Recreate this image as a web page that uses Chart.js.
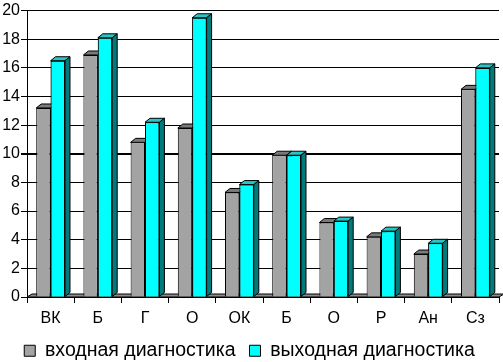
<!DOCTYPE html>
<html>
<head>
<meta charset="utf-8">
<script src="https://cdn.jsdelivr.net/npm/chart.js"></script>
<style>
  html, body { margin: 0; padding: 0; background: #fff; }
  #wrap { width: 503px; height: 362px; }
</style>
</head>
<body>
<div id="wrap"><canvas id="myChart" width="503" height="362"></canvas></div>
<script>
// categories and values
const categories = ['ВК', 'Б', 'Г', 'О', 'ОК', 'Б', 'О', 'Р', 'Ан', 'Сз'];
const inputDiag = [13.2, 16.9, 10.8, 11.8, 7.3, 9.9, 5.2, 4.2, 3.0, 14.5];
const outputDiag = [16.5, 18.1, 12.2, 19.5, 7.85, 9.9, 5.3, 4.6, 3.75, 16.0];
const yTicks = [0, 2, 4, 6, 8, 10, 12, 14, 16, 18, 20];

const DX = 5, DY = 4;
const FONT = '"Liberation Sans", Arial, sans-serif';

function drawFaces(ctx, bar, ds) {
    const { x, y, base, width } = bar.getProps(['x', 'y', 'base', 'width'], true);
    const l = x - width / 2, r = x + width / 2;
    // top face
    ctx.beginPath();
    ctx.moveTo(l, y);
    ctx.lineTo(l + DX, y - DY);
    ctx.lineTo(r + DX, y - DY);
    ctx.lineTo(r, y);
    ctx.closePath();
    ctx.fillStyle = ds.topColor;
    ctx.fill();
    ctx.stroke();
    // side face
    ctx.beginPath();
    ctx.moveTo(r, y);
    ctx.lineTo(r + DX, y - DY);
    ctx.lineTo(r + DX, base - DY);
    ctx.lineTo(r, base);
    ctx.closePath();
    ctx.fillStyle = ds.sideColor;
    ctx.fill();
    ctx.stroke();
}

// 3D look: floor strip, top faces, right side faces
const bars3d = {
    id: 'bars3d',
    beforeLayout(chart) {
        // fixed legend height so the plot bottom lands where the original has it
        const lg = chart.legend;
        if (lg && !lg._fixed) {
            const fit = lg.fit.bind(lg);
            lg.fit = function () { fit(); this.height = 35; };
            lg._fixed = true;
        }
    },
    beforeDatasetsDraw(chart) {
        const { ctx, chartArea } = chart;
        const b = chart.scales.y.getPixelForValue(0);
        ctx.save();
        ctx.beginPath();
        ctx.moveTo(chartArea.left, b);
        ctx.lineTo(chartArea.left + DX, b - 3);
        ctx.lineTo(chartArea.right + DX, b - 3);
        ctx.lineTo(chartArea.right, b);
        ctx.closePath();
        ctx.fillStyle = '#8c8c8c';
        ctx.fill();
        ctx.strokeStyle = '#000';
        ctx.lineWidth = 1;
        ctx.stroke();
        ctx.restore();
    },
    afterDatasetsDraw(chart) {
        const ctx = chart.ctx;
        const grey = chart.getDatasetMeta(0);
        const cyan = chart.getDatasetMeta(1);
        const dsG = chart.data.datasets[0];
        const dsC = chart.data.datasets[1];
        ctx.save();
        ctx.strokeStyle = '#000';
        ctx.lineWidth = 1;
        grey.data.forEach(bar => drawFaces(ctx, bar, dsG));
        // cyan front must sit over the grey side face
        cyan.data.forEach(bar => bar.draw(ctx));
        ctx.strokeStyle = '#000';
        ctx.lineWidth = 1;
        cyan.data.forEach(bar => drawFaces(ctx, bar, dsC));
        ctx.restore();
    }
};

const ctx = document.getElementById('myChart').getContext('2d');
new Chart(ctx, {
    type: 'bar',
    data: {
        labels: categories,
        datasets: [
            {
                label: 'входная диагностика',
                data: inputDiag,
                backgroundColor: '#a3a3a3',
                topColor: '#7a7a7a',
                sideColor: '#5e5e5e',
                borderColor: '#000',
                borderWidth: 1
            },
            {
                label: 'выходная диагностика',
                data: outputDiag,
                backgroundColor: '#00ffff',
                topColor: '#2ac4c4',
                sideColor: '#007a7a',
                borderColor: '#000',
                borderWidth: 1
            }
        ]
    },
    options: {
        responsive: false,
        animation: false,
        devicePixelRatio: 1,
        layout: { padding: { top: 5, right: 4, left: 0, bottom: 0 } },
        datasets: {
            bar: { barPercentage: 1, categoryPercentage: 0.61 }
        },
        plugins: {
            tooltip: { enabled: false },
            legend: {
                position: 'bottom',
                labels: {
                    color: '#000',
                    font: { family: FONT, size: 19.5 },
                    boxWidth: 11,
                    boxHeight: 11,
                    padding: 14
                }
            }
        },
        scales: {
            x: {
                grid: {
                    offset: true,
                    drawOnChartArea: false,
                    color: '#000',
                    tickLength: 6
                },
                border: { color: '#000' },
                ticks: {
                    color: '#000',
                    padding: 6,
                    font: { family: FONT, size: 16 }
                },
                afterFit: s => { s.height = 30; }
            },
            y: {
                min: 0,
                max: 20,
                afterBuildTicks: s => { s.ticks = yTicks.map(v => ({ value: v })); },
                grid: {
                    color: '#000',
                    lineWidth: c => (c.tick && c.tick.value === 10 ? 2 : 1),
                    tickLength: 6
                },
                border: { color: '#000' },
                ticks: {
                    color: '#000',
                    padding: 1,
                    font: { family: FONT, size: 16 }
                },
                afterFit: s => { s.width = 27; }
            }
        }
    },
    plugins: [bars3d]
});
</script>
</body>
</html>
